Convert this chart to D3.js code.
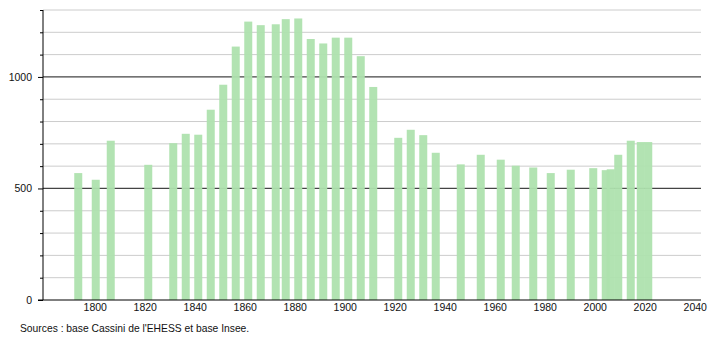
<!DOCTYPE html>
<html>
<head>
<meta charset="utf-8">
<script src="https://cdn.jsdelivr.net/npm/d3@7"></script>
<style>
  body { margin: 0; background: #fff; }
  svg text { font-family: "Liberation Sans", Arial, sans-serif; fill: #111; }
</style>
</head>
<body>
<svg id="chart" width="710" height="340"></svg>
<script>
const years = [1793, 1800, 1806, 1821, 1831, 1836, 1841, 1846, 1851, 1856,
  1861, 1866, 1872, 1876, 1881, 1886, 1891, 1896, 1901, 1906,
  1911, 1921, 1926, 1931, 1936, 1946, 1954, 1962, 1968, 1975,
  1982, 1990, 1999, 2004, 2006, 2009, 2014, 2018, 2021];
const population = [569, 539, 714, 606, 703, 745, 741, 853, 965, 1136,
  1248, 1232, 1236, 1259, 1262, 1170, 1150, 1176, 1176, 1093,
  955, 727, 763, 739, 660, 608, 651, 629, 602, 594,
  569, 584, 591, 582, 586, 651, 714, 708, 708];
const xTicks = [1800, 1820, 1840, 1860, 1880, 1900, 1920, 1940, 1960, 1980, 2000, 2020, 2040];
const yLabels = [0, 500, 1000];
const source = "Sources : base Cassini de l'EHESS et base Insee.";

const data = years.map((y, i) => ({ year: y, value: population[i] }));

const svg = d3.select("#chart");
const plotLeft = 43, plotRight = 701, plotTop = 10, plotBottom = 300;

const x = d3.scaleLinear().domain([1779.3, 2042.5]).range([plotLeft, plotRight]);
const y = d3.scaleLinear().domain([0, 1300]).range([plotBottom, plotTop]);
const barW = 8;

// horizontal grid, every 100
const gridVals = d3.range(100, 1301, 100);
svg.append("g")
  .selectAll("line")
  .data(gridVals)
  .enter()
  .append("line")
  .attr("x1", plotLeft)
  .attr("x2", plotRight)
  .attr("y1", d => y(d))
  .attr("y2", d => y(d))
  .attr("stroke", d => d % 500 === 0 ? "#444" : "#ccc")
  .attr("stroke-width", d => d % 500 === 0 ? 1.2 : 1);

// bars
svg.append("g")
  .selectAll("rect")
  .data(data)
  .enter()
  .append("rect")
  .attr("x", d => x(d.year) - barW / 2 + 1)
  .attr("width", barW)
  .attr("y", d => y(d.value))
  .attr("height", d => y(0) - y(d.value))
  .attr("fill", "#aee2ae")
  .attr("fill-opacity", 0.95);

// y axis: major ticks with labels, minor ticks every 100
const yAxis = d3.axisLeft(y)
  .tickValues(d3.range(0, 1301, 100))
  .tickSize(3)
  .tickFormat(d => yLabels.includes(d) ? d : "");
const gy = svg.append("g")
  .attr("transform", `translate(${plotLeft},0)`)
  .call(yAxis);
gy.select(".domain").attr("stroke", "#000").attr("d", `M0,${plotTop}V${plotBottom}`);
gy.selectAll(".tick line")
  .attr("stroke", "#000")
  .attr("x2", d => yLabels.includes(d) ? -5 : -3);
gy.selectAll(".tick text")
  .attr("x", -11)
  .style("font-size", "10.5px")
  .attr("fill", "#111");

// x axis: baseline and year labels
const xAxis = d3.axisBottom(x)
  .tickValues(xTicks)
  .tickSize(0)
  .tickFormat(d3.format("d"));
const gx = svg.append("g")
  .attr("transform", `translate(0,${plotBottom})`)
  .call(xAxis);
gx.select(".domain").attr("stroke", "#000").attr("d", `M38,0H${plotRight}`);
gx.selectAll(".tick text")
  .attr("y", 4)
  .style("font-size", "10.5px")
  .attr("fill", "#111");

svg.append("text")
  .attr("x", 20)
  .attr("y", 332)
  .style("font-size", "10.3px")
  .text(source);
</script>
</body>
</html>
